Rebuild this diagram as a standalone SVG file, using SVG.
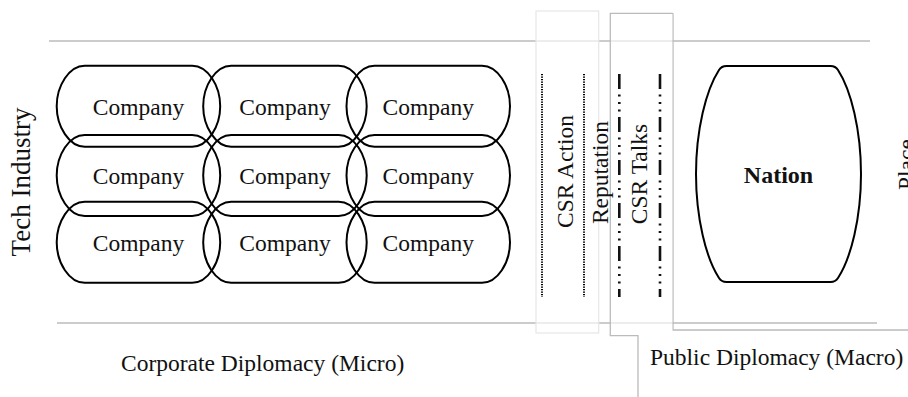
<svg xmlns="http://www.w3.org/2000/svg" width="908" height="397" viewBox="0 0 908 397">
<style>
  .frame{stroke:#bbbbbb;stroke-width:1.3;fill:none}
  .veil{fill:#ffffff;fill-opacity:0.65}
  .shape{fill:none;stroke:#000;stroke-width:2}
  .t{font-family:"Liberation Serif","Times New Roman",serif;font-size:23.5px;fill:#111}
  .c{text-anchor:middle}
  .b{font-weight:bold;font-size:24px}
  .dot{stroke:#000;stroke-width:2;stroke-dasharray:1.2 1.3;fill:none}
  .dd{stroke:#111;stroke-width:2.6;stroke-dasharray:15 5.5 2 5.5 2 5.5 2 5.5;fill:none}
</style>
<defs>
  <path id="co" d="M28,0 H135.5 C151,0 163.5,20 163.5,40.5 C163.5,61 151,81 135.5,81 H28 C12.5,81 0,61 0,40.5 C0,20 12.5,0 28,0 Z"/>
</defs>
<rect width="908" height="397" fill="#fff"/>

<g id="frame">
  <line class="frame" x1="49" y1="41" x2="870" y2="41"/>
  <line class="frame" x1="57" y1="323" x2="877" y2="323"/>
  <polyline class="frame" points="673,13.3 673,330 908,330"/>
  <polyline class="frame" points="638,397 638,335.7 610.3,335.7 610.3,13.3 673,13.3"/>
</g>

<g id="csr-action">
  <rect class="veil" x="536" y="11" width="62.7" height="322" stroke="#e6e6e6" stroke-width="1.2"/>
  <line class="dot" x1="542" y1="74" x2="542" y2="297"/>
  <line class="dot" x1="584" y1="74" x2="584" y2="297"/>
  <text class="t c" transform="translate(573,171.5) rotate(-90)">CSR Action</text>
</g>

<g id="csr-talks">
  <rect class="veil" x="611" y="14" width="61.4" height="321"/>
  <line class="dd" x1="619.3" y1="74" x2="619.3" y2="297"/>
  <line class="dd" x1="660" y1="74" x2="660" y2="297"/>
  <text class="t c" transform="translate(647,174) rotate(-90)">CSR Talks</text>
</g>

<g id="reputation">
  <text class="t c" transform="translate(607.5,172.5) rotate(-90)">Reputation</text>
</g>

<g id="company-r1c1"><use href="#co" class="shape" x="56.7" y="65.7"/><text class="t c" x="138.5" y="114.5">Company</text></g>
<g id="company-r1c2"><use href="#co" class="shape" x="203.2" y="65.7"/><text class="t c" x="285" y="114.5">Company</text></g>
<g id="company-r1c3"><use href="#co" class="shape" x="346.5" y="65.7"/><text class="t c" x="428.3" y="114.5">Company</text></g>
<g id="company-r2c1"><use href="#co" class="shape" x="56.7" y="135"/><text class="t c" x="138.5" y="183.8">Company</text></g>
<g id="company-r2c2"><use href="#co" class="shape" x="203.2" y="135"/><text class="t c" x="285" y="183.8">Company</text></g>
<g id="company-r2c3"><use href="#co" class="shape" x="346.5" y="135"/><text class="t c" x="428.3" y="183.8">Company</text></g>
<g id="company-r3c1"><use href="#co" class="shape" x="56.7" y="201.8"/><text class="t c" x="138.5" y="250.5">Company</text></g>
<g id="company-r3c2"><use href="#co" class="shape" x="203.2" y="201.8"/><text class="t c" x="285" y="250.5">Company</text></g>
<g id="company-r3c3"><use href="#co" class="shape" x="346.5" y="201.8"/><text class="t c" x="428.3" y="250.5">Company</text></g>

<g id="nation">
  <path class="shape" d="M726.5,66 H830.5 Q835.5,66 838,70 C851,90 861,130 861,174 C861,218 851,258 838,278 Q835.5,282 830.5,282 H726.5 Q721.5,282 719,278 C706,258 696,218 696,174 C696,130 706,90 719,70 Q721.5,66 726.5,66 Z"/>
  <text class="t c b" x="778.5" y="182.7">Nation</text>
</g>

<g id="labels">
  <text class="t c" style="font-size:27px" transform="translate(29.5,182) rotate(-90)">Tech Industry</text>
  <text class="t" transform="translate(913.5,190) rotate(-90)">Place</text>
  <text class="t" x="121" y="370.5">Corporate Diplomacy (Micro)</text>
  <text class="t" x="650" y="365">Public Diplomacy (Macro)</text>
</g>

<g id="connectors"></g>
</svg>
